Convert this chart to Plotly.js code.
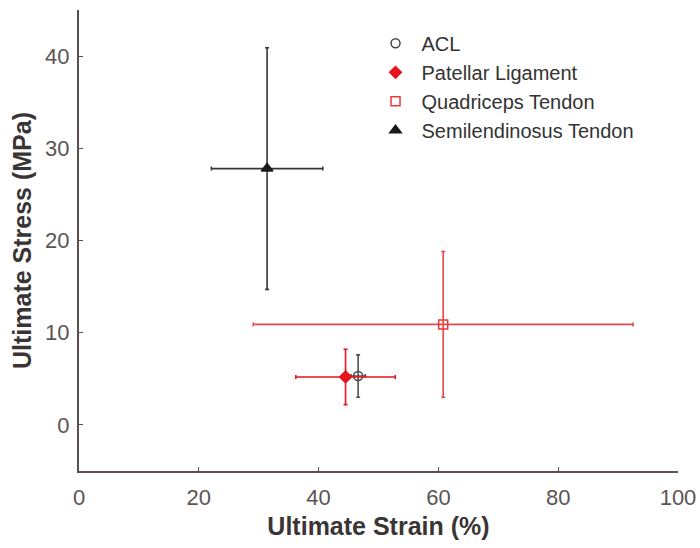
<!DOCTYPE html>
<html><head><meta charset="utf-8">
<script src="https://cdn.plot.ly/plotly-3.0.1.min.js"></script>
<style>body{margin:0;background:#fff}#plot{width:700px;height:548px}</style>
</head><body><div id="plot"></div>
<script>
const names = ["ACL", "Patellar Ligament", "Quadriceps Tendon", "Semilendinosus Tendon"];
const strain = [46.6, 44.5, 60.8, 31.4];
const strainErr = [1.2, 8.3, 31.7, 9.3];
const stress = [5.3, 5.2, 10.9, 27.8];
const stressErr = [2.3, 3.0, 7.9, 13.1];
const colors = ["#4a4444", "#e8141e", "#e83a3a", "#1a1a1a"];
const symbols = ["circle-open", "diamond", "square-open", "triangle-up"];
const sizes = [9, 9, 9, 10];
const errColors = ["#555050", "#e8141e", "#e84848", "#3a3535"];

const traces = names.map((n, i) => ({
  type: "scatter", mode: "markers", name: n,
  x: [strain[i]], y: [stress[i]],
  marker: {symbol: symbols[i], color: colors[i], size: sizes[i], line: {color: colors[i], width: 1.5}},
  error_x: {type: "data", array: [strainErr[i]], color: errColors[i], thickness: 1.6, width: 2},
  error_y: {type: "data", array: [stressErr[i]], color: errColors[i], thickness: 1.6, width: 2}
}));

const layout = {
  width: 700, height: 548,
  margin: {l: 79, r: 22, t: 10, b: 77},
  paper_bgcolor: "#fff", plot_bgcolor: "#fff",
  font: {family: "Liberation Sans, Arial, sans-serif", color: "#5a5555"},
  showlegend: true,
  legend: {x: 0.485, y: 0.97, xanchor: "left", yanchor: "top", bgcolor: "rgba(0,0,0,0)",
           font: {size: 20, color: "#333"}, tracegroupgap: 0, itemwidth: 42},
  xaxis: {range: [0, 100], tickvals: [0, 20, 40, 60, 80, 100], ticks: "inside", ticklen: 4,
          tickcolor: "#5a5050", showline: true, linecolor: "#5a5050", linewidth: 2,
          showgrid: false, zeroline: false, tickfont: {size: 22, color: "#5a5555"}, ticklabelstandoff: 6,
          title: {text: "<b>Ultimate Strain (%)</b>", font: {size: 25, color: "#3a3535"}, standoff: 8}},
  yaxis: {range: [-5, 45], tickvals: [0, 10, 20, 30, 40], ticks: "inside", ticklen: 4,
          tickcolor: "#5a5050", showline: true, linecolor: "#5a5050", linewidth: 2,
          showgrid: false, zeroline: false, tickfont: {size: 22, color: "#5a5555"}, ticklabelstandoff: 3,
          title: {text: "<b>Ultimate Stress (MPa)</b>", font: {size: 25, color: "#3a3535"}, standoff: 6}}
};
Plotly.newPlot("plot", traces, layout, {displayModeBar: false});
</script></body></html>
